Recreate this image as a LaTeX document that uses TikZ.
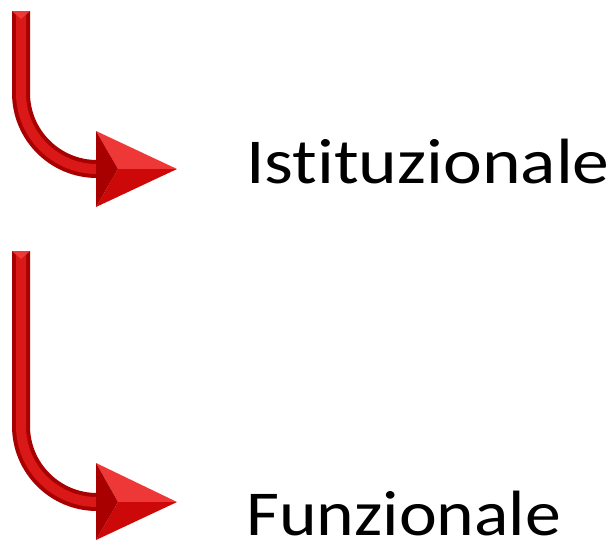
\documentclass[tikz,border=0pt]{standalone}
\usepackage{fontspec}
\setmainfont{Carlito}[Ligatures=NoCommon]
\definecolor{myRed}{RGB}{218, 24, 24}
\definecolor{myDarkRed}{RGB}{168, 0, 0}
\definecolor{myLightRed}{RGB}{238, 56, 56}
\definecolor{myMidRed}{RGB}{204, 8, 8}
\tikzset{
  shaft/.style={line width=18pt, myDarkRed},
  shaftlight/.style={line width=10pt, myRed},
  label/.style={inner sep=0pt, anchor=base west, font=\fontsize{64}{70}\selectfont}
}
\begin{document}
\begin{tikzpicture}[x=1pt, y=1pt]
				\useasboundingbox (0,0) rectangle (614,-547);
				% upper arrow
				\coordinate (S1) at (21,-11);
				\coordinate (E1) at (100,-169);
				\draw[shaft] (S1) -- (21,-93) arc[start angle=180, end angle=270, radius=76] -- (E1);
				\draw[shaftlight] (S1) -- (21,-93) arc[start angle=180, end angle=270, radius=76] -- (E1);
				\fill[myLightRed] (12,-11) -- (30,-11) -- (21,-19) -- cycle;
				\fill[myLightRed] (96,-131) -- (177,-169) -- (118,-169) -- cycle;
				\fill[myMidRed] (96,-207) -- (177,-169) -- (118,-169) -- cycle;
				\fill[myDarkRed] (96,-131) -- (118,-169) -- (96,-207) -- cycle;
				\node[label] (I) at (246,-183) {\scalebox{1.15}[1]{Istituzionale}};
		
				% lower arrow
				\coordinate (S2) at (21,-251);
				\coordinate (E2) at (100,-502);
				\draw[shaft] (S2) -- (21,-426) arc[start angle=180, end angle=270, radius=76] -- (E2);
				\draw[shaftlight] (S2) -- (21,-426) arc[start angle=180, end angle=270, radius=76] -- (E2);
				\fill[myLightRed] (12,-251) -- (30,-251) -- (21,-259) -- cycle;
				\fill[myLightRed] (96,-463) -- (177,-502) -- (118,-502) -- cycle;
				\fill[myMidRed] (96,-540) -- (177,-502) -- (118,-502) -- cycle;
				\fill[myDarkRed] (96,-463) -- (118,-502) -- (96,-540) -- cycle;
				\node[label] (F) at (246,-535) {\scalebox{1.12}[1]{Funzionale}};
			\end{tikzpicture}
\end{document}
